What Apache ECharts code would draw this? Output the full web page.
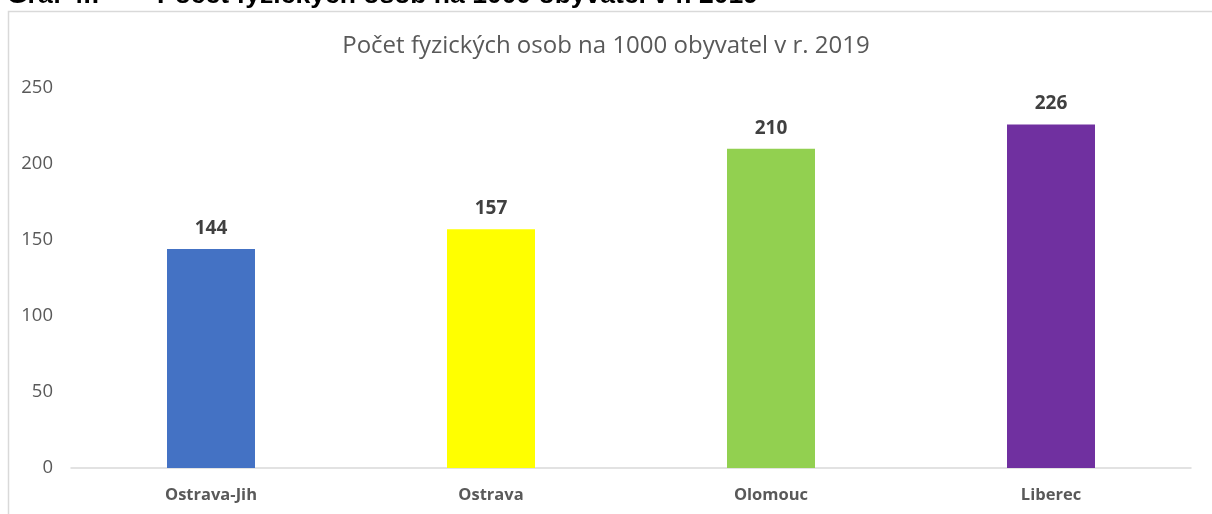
<!DOCTYPE html>
<html>
<head>
<meta charset="utf-8">
<script src="https://cdn.jsdelivr.net/npm/echarts@6/dist/echarts.min.js"></script>
<style>
  html, body { margin: 0; padding: 0; background: #fff; }
  #chart { width: 1212px; height: 514px; }
</style>
</head>
<body>
<div id="chart"></div>
<script>
// data
const categories = ['Ostrava-Jih', 'Ostrava', 'Olomouc', 'Liberec'];
const values = [144, 157, 210, 226];
const barColors = ['#4472C4', '#FFFF00', '#92D050', '#7030A0'];
const yTicks = [0, 50, 100, 150, 200, 250];

const myChart = echarts.init(document.getElementById('chart'));

const headStyle = { fontFamily: 'Liberation Sans', fontWeight: 'bold', fontSize: 26.5, color: '#000' };

const option = {
  animation: false,
  backgroundColor: '#fff',
  title: [
    // cut-off heading above the chart frame
    { text: 'Graf 4.:', left: 2, top: -23, textStyle: headStyle },
    { text: 'Počet fyzických osob na 1000 obyvatel v r. 2019', left: 152, top: -23, textStyle: headStyle },
    {
      text: 'Počet fyzických osob na 1000 obyvatel v r. 2019',
      left: 'center',
      top: 29,
      textStyle: { fontFamily: 'Open Sans', fontWeight: 'normal', fontSize: 24, color: '#595959' }
    }
  ],
  graphic: [
    {
      type: 'rect',
      left: 6,
      top: 9,
      shape: { width: 1220, height: 520 },
      style: { fill: 'none', stroke: '#d9d9d9', lineWidth: 1.5 },
      z: -1
    }
  ],
  grid: { left: 71, right: 21, top: 88, bottom: 46 },
  xAxis: {
    type: 'category',
    data: categories,
    axisLine: { lineStyle: { color: '#d9d9d9', width: 1.5 } },
    axisTick: { show: false },
    axisLabel: {
      fontFamily: 'Open Sans', fontWeight: 'bold', fontSize: 16.5, color: '#595959', margin: 19
    }
  },
  yAxis: {
    type: 'value',
    min: yTicks[0],
    max: yTicks[yTicks.length - 1],
    interval: 50,
    splitLine: { show: false },
    axisLine: { show: false },
    axisTick: { show: false },
    axisLabel: { fontFamily: 'Open Sans', fontSize: 18.5, color: '#595959', margin: 18 }
  },
  series: [
    {
      type: 'bar',
      barWidth: 88,
      data: values.map((v, i) => ({ value: v, itemStyle: { color: barColors[i] } })),
      label: {
        show: true,
        position: 'top',
        distance: 11,
        fontFamily: 'Open Sans',
        fontWeight: 'bold',
        fontSize: 19,
        color: '#404040'
      }
    }
  ]
};

myChart.setOption(option);
window.addEventListener('resize', myChart.resize);
</script>
</body>
</html>
